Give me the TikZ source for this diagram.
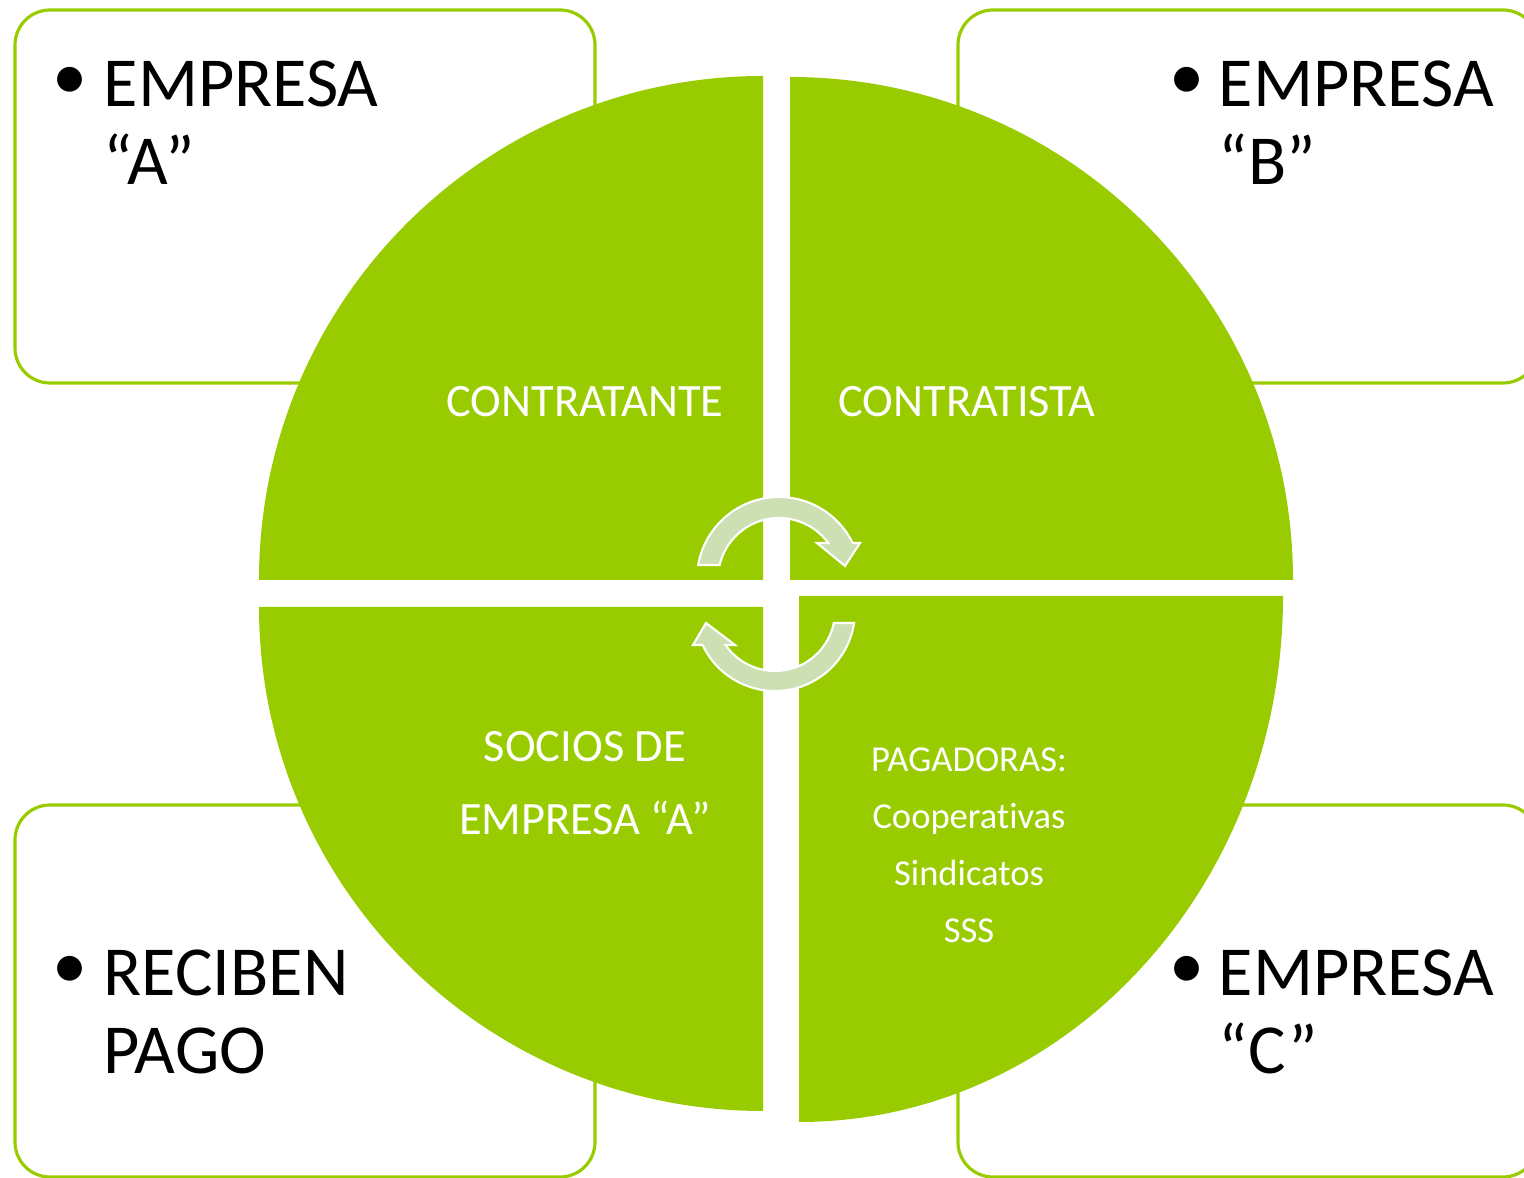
\documentclass[tikz,border=0pt]{standalone}
\usepackage{fontspec}
\setmainfont{Carlito}[Ligatures=NoCommon]
\usetikzlibrary{calc}
\definecolor{leaf}{HTML}{99CC00}
\definecolor{sage}{HTML}{CCE0B4}
\tikzset{
	cornerbox/.style={draw=leaf, line width=0.9pt, fill=white, rounded corners=0.35cm},
	quarter/.style={fill=leaf},
	turnarrow/.style={fill=sage, draw=white, line width=0.6pt},
	bulletmark/.style={inner sep=0, text=black, font=\fontsize{20}{22.2}\selectfont},
	bullettext/.style={inner sep=0, anchor=north west, align=left, text=black, font=\fontsize{20}{22.2}\selectfont},
	quartertext/.style={text=white, align=center, font=\fontsize{13.2}{20.8}\selectfont},
	listtext/.style={text=white, align=center, font=\fontsize{10.4}{16.2}\selectfont}
}

\begin{document}
\begin{tikzpicture}
			%%%%% START %%%%%
			\useasboundingbox (0, 0) rectangle (15.24, 11.78);
			
			\draw[cornerbox] (0.15, 11.68) rectangle (5.95, 7.95);
			\draw[cornerbox] (9.58, 11.68) rectangle (15.38, 7.95);
			\draw[cornerbox] (0.15, 3.73) rectangle (5.95, 0.01);
			\draw[cornerbox] (9.58, 3.73) rectangle (15.38, 0.01);
			
			\fill[quarter] (7.63, 5.98) -- ++(-5.04, 0) arc (180:90:5.04) -- cycle;
			\fill[quarter] (7.90, 5.98) -- ++(5.03, 0) arc (0:90:5.03) -- cycle;
			\fill[quarter] (7.63, 5.71) -- ++(-5.04, 0) arc (180:270:5.04) -- cycle;
			\fill[quarter] (7.99, 5.82) -- ++(4.84, 0) arc [start angle=0, end angle=-90, x radius=4.84, y radius=5.26] -- cycle;
			
			\coordinate (c1) at (7.79, 5.99);
			\coordinate (c2) at (7.75, 5.67);
			\draw[turnarrow] ($(c1)+(170.2:0.82)$) arc (170.2:26:0.82) -- (8.60, 6.35) -- (8.45, 6.12) -- (8.17, 6.35) -- ($(c1)+(36.2:0.61)$) arc (36.2:166.7:0.61) -- cycle;
			\draw[turnarrow] ($(c2)+(-8.6:0.80)$) arc (-8.6:-154.8:0.80) -- (6.93, 5.33) -- (7.06, 5.55) -- (7.35, 5.33) -- ($(c2)+(-145.5:0.60)$) arc (-145.5:-11.5:0.60) -- cycle;
			
			\node[quartertext] (contratante) at (5.85, 7.76) {CONTRATANTE};
			\node[quartertext] (contratista) at (9.67, 7.76) {CONTRATISTA};
			\node[quartertext] (socios) at (5.85, 3.95) {SOCIOS DE\\EMPRESA “A”};
			\node[listtext] (pagadoras) at (9.69, 3.33) {PAGADORAS:\\Cooperativas\\Sindicatos\\SSS};
			
			\node[bulletmark] (ba) at (0.70, 10.95) {•};
			\node[bullettext] (ea) at (1.03, 11.18) {EMPRESA\\“A”};
			\node[bulletmark] (bb) at (11.87, 10.95) {•};
			\node[bullettext] (eb) at (12.18, 11.18) {EMPRESA\\“B”};
			\node[bulletmark] (bp) at (0.70, 2.06) {•};
			\node[bullettext] (pago) at (1.03, 2.29) {RECIBEN\\PAGO};
			\node[bulletmark] (bc) at (11.87, 2.06) {•};
			\node[bullettext] (ec) at (12.18, 2.29) {EMPRESA\\“C”};
			
			%%%%% END %%%%%
\end{tikzpicture}
\end{document}
